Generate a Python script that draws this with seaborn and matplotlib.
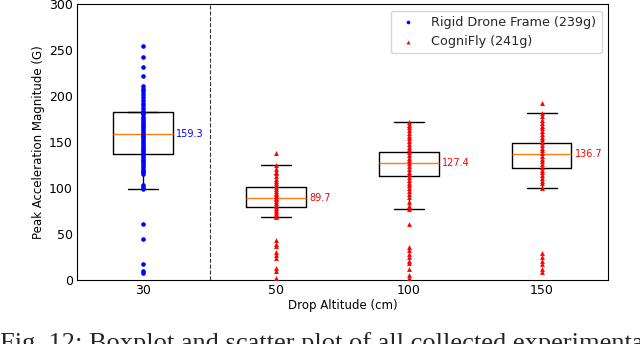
import numpy as np
import pandas as pd
import seaborn as sns
import matplotlib.pyplot as plt

# 类别（跌落高度）
altitudes = ['30', '50', '100', '150']

# 各高度的峰值加速度（从图中读取的散点）
rigid_30 = [255, 242, 232, 222, 211, 208, 205, 202, 199, 196, 193, 190, 187, 184, 182,
            180, 177, 175, 173, 171, 169, 167, 165, 163, 161, 159, 157, 155, 153, 151,
            149, 147, 145, 143, 141, 139, 137, 135, 133, 131, 129, 127, 125, 123, 121,
            119, 117, 115, 103, 101, 99, 61, 45, 17, 10, 8]
cogni_50 = [138, 125, 121, 118, 116, 113, 110, 108, 105, 103, 101, 99, 97, 95, 93,
            91, 89, 88, 86, 84, 82, 80, 78, 76, 74, 72, 70, 68, 43, 39, 37, 30, 27,
            24, 13, 10, 2]
cogni_100 = [172, 169, 166, 163, 160, 157, 154, 151, 148, 145, 142, 139, 136, 133, 130,
             127, 124, 121, 118, 115, 112, 109, 106, 103, 100, 97, 94, 90, 85, 80, 77,
             61, 36, 33, 28, 25, 21, 18, 12, 5, 2]
cogni_150 = [193, 182, 178, 174, 171, 168, 165, 162, 159, 156, 153, 150, 147, 144, 141,
             138, 135, 132, 129, 126, 123, 120, 117, 114, 111, 108, 105, 100, 29, 25,
             21, 17, 12, 9]

# 箱线图统计量
box_q1 = [137, 79.7, 113, 122]
box_q3 = [183, 101, 139.5, 148.6]
box_med = [159.3, 89.7, 127.4, 136.7]
whisker_lo = [99, 68.5, 77, 100]
whisker_hi = [183, 125.3, 172, 182]
label_colors = ['blue', 'red', 'red', 'red']

fig = plt.figure(figsize=(6.4, 3.44), dpi=100)
ax = fig.add_axes([0.120, 0.186, 0.830, 0.802])
sns.set_style('ticks')
plt.rcParams['font.family'] = ['DejaVu Sans']

stats = []
for i in range(len(altitudes)):
    stats.append({'med': box_med[i], 'q1': box_q1[i], 'q3': box_q3[i],
                  'whislo': whisker_lo[i], 'whishi': whisker_hi[i], 'fliers': []})
ax.bxp(stats, positions=range(len(altitudes)), widths=0.45, showfliers=False,
       boxprops=dict(color='black', linewidth=1),
       whiskerprops=dict(color='black', linewidth=1),
       capprops=dict(color='black', linewidth=1),
       medianprops=dict(color='#ff7f0e', linewidth=1), manage_ticks=False)

df_rigid = pd.DataFrame({'alt': '30', 'g': rigid_30})
df_cogni = pd.concat([pd.DataFrame({'alt': '50', 'g': cogni_50}),
                      pd.DataFrame({'alt': '100', 'g': cogni_100}),
                      pd.DataFrame({'alt': '150', 'g': cogni_150})])

sns.stripplot(data=df_rigid, x='alt', y='g', order=altitudes, jitter=False,
              color='blue', marker='o', size=3.3, linewidth=0, ax=ax, zorder=3,
              label='Rigid Drone Frame (239g)')
sns.stripplot(data=df_cogni, x='alt', y='g', order=altitudes, jitter=False,
              color='red', marker='^', size=3.5, linewidth=0, ax=ax, zorder=3,
              label='CogniFly (241g)')

# 中位数标注
for i in range(len(altitudes)):
    ax.text(i + 0.25, box_med[i], f'{box_med[i]:.1f}', color=label_colors[i],
            fontsize=7, va='center', ha='left')

ax.axvline(0.5, color='black', linestyle='--', linewidth=0.8, alpha=0.8)
ax.set_xlim(-0.5, 3.5)
ax.set_ylim(0, 300)
ax.set_yticks(range(0, 301, 50))
ax.set_xlabel('Drop Altitude (cm)', fontsize=8.5, labelpad=1)
ax.set_ylabel('Peak Acceleration Magnitude (G)', fontsize=8.5, labelpad=3)
ax.tick_params(labelsize=9, length=0, pad=3)
for s in ax.spines.values():
    s.set_visible(True)

# 图例：每个系列只保留一个句柄
h, l = ax.get_legend_handles_labels()
seen = {}
for hh, ll in zip(h, l):
    if ll not in seen:
        seen[ll] = hh
ax.legend(seen.values(), seen.keys(), loc='upper right', fontsize=9.2,
          markerscale=0.8, frameon=True)

fig.text(0.0, 1 - 332 / 344, 'Fig. 12: Boxplot and scatter plot of all collected experimental',
         family='Liberation Serif', fontsize=19, va='top', ha='left')

fig.savefig('out.png', dpi=100)
